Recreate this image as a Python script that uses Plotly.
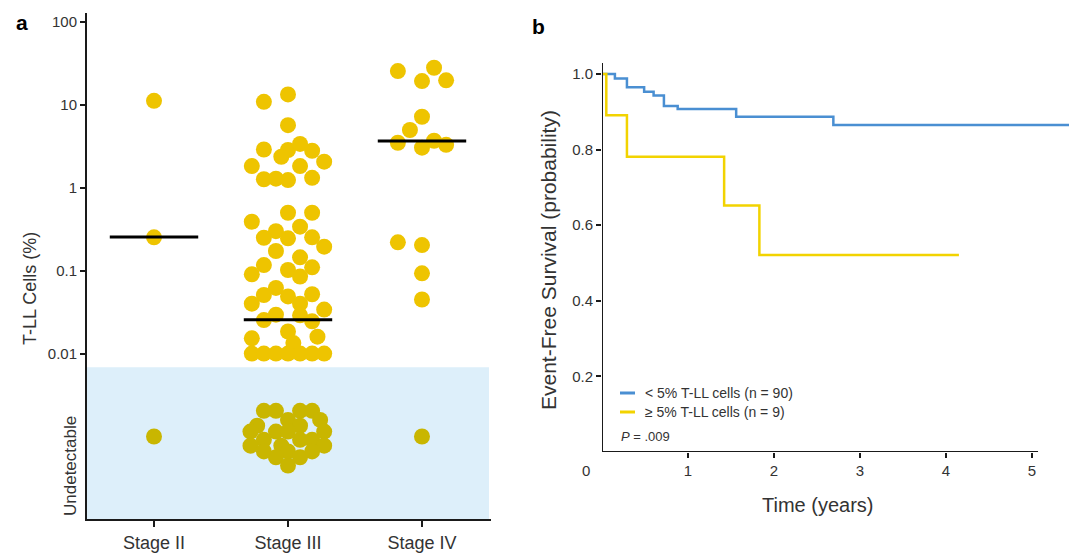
import plotly.graph_objects as go

# ---------------- data ----------------
stages = ["Stage II", "Stage III", "Stage IV"]

stage2_vals = [11.2, 0.253]
stage2_dx = [0, 0]
stage2_undet_dx = [0]
stage2_undet_dy = [0]

stage3_vals = [10.9, 13.4, 5.7,
               2.9, 2.86, 2.37, 3.39, 2.8, 2.07, 1.83, 1.83, 1.27, 1.29, 1.24, 1.32,
               0.50, 0.50, 0.39, 0.30, 0.34, 0.25, 0.246, 0.253, 0.195, 0.173, 0.145,
               0.117, 0.102, 0.11, 0.0905, 0.085,
               0.062, 0.051, 0.049, 0.052, 0.040, 0.040, 0.034, 0.0254, 0.0295, 0.029,
               0.0245, 0.0185, 0.0153, 0.0134, 0.016,
               0.01, 0.01, 0.01, 0.01, 0.01, 0.01, 0.01]
stage3_dx = [-0.18, 0, 0,
             -0.18, 0, -0.05, 0.09, 0.18, 0.27, -0.27, 0.09, -0.18, -0.09, 0, 0.18,
             0, 0.18, -0.27, -0.09, 0.09, -0.18, 0, 0.18, 0.27, -0.09, 0.09,
             -0.18, 0, 0.18, -0.27, 0.09,
             -0.09, -0.18, 0, 0.18, -0.27, 0.09, 0.27, -0.18, -0.09, 0.09,
             0.18, 0, -0.27, 0.04, 0.22,
             -0.27, -0.18, -0.09, 0, 0.09, 0.18, 0.27]
stage3_undet_dx = [-0.18, -0.09, 0.09, 0.18, 0, 0.24, -0.23, 0.09, -0.28, -0.09, 0, 0.27,
                   -0.18, 0.09, 0.18, -0.28, -0.05, 0.27, -0.18, 0, 0.18, -0.09, 0.09, 0]
stage3_undet_dy = [0.31, 0.31, 0.31, 0.31, 0.2, 0.2, 0.13, 0.13, 0.06, 0.06, 0.06, 0.06,
                   -0.04, -0.04, -0.04, -0.11, -0.11, -0.11, -0.18, -0.18, -0.18, -0.25, -0.25, -0.35]

stage4_vals = [25.6, 28.1, 19.4, 19.8, 7.2, 4.98, 3.5, 3.05, 3.7, 3.3, 0.22, 0.204, 0.093, 0.045]
stage4_dx = [-0.18, 0.09, 0, 0.18, 0, -0.09, -0.18, 0, 0.09, 0.18, -0.18, 0, 0, 0]
stage4_undet_dx = [0]
stage4_undet_dy = [0]

medians = [0.256, 0.0257, 3.66]

blue_t = [0, 0.15, 0.29, 0.49, 0.60, 0.72, 0.88, 1.56, 2.69, 5.5]
blue_s = [1.0, 0.988, 0.965, 0.953, 0.943, 0.915, 0.907, 0.887, 0.865, 0.865]
yel_t = [0, 0.05, 0.29, 1.42, 1.83, 4.15]
yel_s = [1.0, 0.891, 0.781, 0.652, 0.521, 0.521]

# ---------------- style ----------------
YEL = "#EEC400"
YEL_UND = "#C9B600"
BAND = "#DDEFFA"
BLUE = "#4A8FD2"
KMYEL = "#F2D300"
AX = "#1a1a1a"
TXT = "#333333"
FONT = "Liberation Sans, Arial, sans-serif"
UNDET = 1e-3   # display level for undetectable samples
MS = 16

fig = go.Figure()

# blue undetectable band
fig.add_trace(go.Scatter(x=[-0.5, 2.5, 2.5, -0.5, -0.5], y=[1e-4, 1e-4, 0.00684, 0.00684, 1e-4],
                         fill="toself", fillcolor=BAND, line=dict(width=0), mode="lines",
                         hoverinfo="skip", showlegend=False, xaxis="x", yaxis="y"))

groups = [(stage2_vals, stage2_dx, stage2_undet_dx, stage2_undet_dy),
          (stage3_vals, stage3_dx, stage3_undet_dx, stage3_undet_dy),
          (stage4_vals, stage4_dx, stage4_undet_dx, stage4_undet_dy)]
for i, (vals, dx, udx, udy) in enumerate(groups):
    fig.add_trace(go.Scatter(x=[i + d for d in dx], y=vals, mode="markers",
                             marker=dict(size=MS, color=YEL, line=dict(width=0)),
                             showlegend=False, xaxis="x", yaxis="y"))
    fig.add_trace(go.Scatter(x=[i + d for d in udx], y=[UNDET * 10 ** d for d in udy], mode="markers",
                             marker=dict(size=MS, color=YEL_UND, line=dict(width=0)),
                             showlegend=False, xaxis="x", yaxis="y"))

for i, m in enumerate(medians):
    fig.add_trace(go.Scatter(x=[i - 0.33, i + 0.33], y=[m, m], mode="lines",
                             line=dict(color="black", width=3), showlegend=False,
                             xaxis="x", yaxis="y"))

# KM curves
fig.add_trace(go.Scatter(x=blue_t, y=blue_s, mode="lines", line=dict(color=BLUE, width=2.5, shape="hv"),
                         showlegend=False, xaxis="x2", yaxis="y2"))
fig.add_trace(go.Scatter(x=yel_t, y=yel_s, mode="lines", line=dict(color=KMYEL, width=2.5, shape="hv"),
                         showlegend=False, xaxis="x2", yaxis="y2"))

fig.update_layout(
    width=1069, height=554, margin=dict(l=0, r=0, t=0, b=0),
    paper_bgcolor="white", plot_bgcolor="white",
    font=dict(family=FONT, color=TXT),
    xaxis=dict(domain=[87 / 1069, 491 / 1069], range=[-0.5, 2.515], tickvals=[0, 1, 2], ticktext=stages,
               showgrid=False, zeroline=False, showline=True, linecolor=AX, linewidth=2,
               ticks="outside", ticklen=6, tickwidth=1.5, tickcolor=AX,
               tickfont=dict(size=18, color=TXT)),
    yaxis=dict(domain=[1 - 519 / 554, 1 - 13 / 554], type="log", range=[-3.995, 2.109],
               tickvals=[100, 10, 1, 0.1, 0.01], ticktext=["100", "10", "1", "0.1", "0.01"],
               showgrid=False, zeroline=False, showline=True, linecolor=AX, linewidth=2,
               ticks="outside", ticklen=5, tickwidth=1.5, tickcolor=AX,
               tickfont=dict(size=15, color=TXT)),
    xaxis2=dict(domain=[602 / 1069, 1.0], range=[0, 5.43], tickvals=[1, 2, 3, 4, 5],
                showgrid=False, zeroline=False, showline=False,
                ticks="outside", ticklen=5, tickwidth=1.5, tickcolor=AX,
                tickfont=dict(size=15, color=TXT), anchor="y2"),
    yaxis2=dict(domain=[1 - 452 / 554, 1 - 63 / 554], range=[0, 1.029],
                tickvals=[0.2, 0.4, 0.6, 0.8, 1.0], tickformat=".1f",
                showgrid=False, zeroline=False, showline=False,
                ticks="outside", ticklen=5, tickwidth=1.5, tickcolor=AX,
                tickfont=dict(size=15, color=TXT), anchor="x2"),
)

# panel b axis lines
fig.add_shape(type="line", xref="x2", yref="y2", x0=0, x1=0, y0=0, y1=1.029, line=dict(color=AX, width=2))
fig.add_shape(type="line", xref="x2", yref="y2", x0=0, x1=5.07, y0=0, y1=0, line=dict(color=AX, width=2))

# legend for panel b
fig.add_shape(type="line", xref="paper", yref="paper", x0=620 / 1069, x1=635 / 1069,
              y0=1 - 393 / 554, y1=1 - 393 / 554, line=dict(color=BLUE, width=3))
fig.add_shape(type="line", xref="paper", yref="paper", x0=620 / 1069, x1=635 / 1069,
              y0=1 - 412 / 554, y1=1 - 412 / 554, line=dict(color=KMYEL, width=3))

ann = [
    dict(text="<b>a</b>", x=22 / 1069, y=1 - 22 / 554, size=21, color="black"),
    dict(text="<b>b</b>", x=538 / 1069, y=1 - 26 / 554, size=21, color="black"),
    dict(text="T-LL Cells (%)", x=30 / 1069, y=1 - 289 / 554, size=18, angle=-90),
    dict(text="Undetectable", x=70 / 1069, y=1 - 466 / 554, size=17, angle=-90),
    dict(text="Event-Free Survival (probability)", x=548 / 1069, y=1 - 260 / 554, size=21, angle=-90),
    dict(text="Time (years)", x=817 / 1069, y=1 - 505 / 554, size=20),
    dict(text="0", x=586 / 1069, y=1 - 470 / 554, size=15),
]
for a in ann:
    fig.add_annotation(text=a["text"], x=a["x"], y=a["y"], xref="paper", yref="paper",
                       showarrow=False, textangle=a.get("angle", 0),
                       font=dict(size=a["size"], color=a.get("color", TXT), family=FONT),
                       xanchor="center", yanchor="middle")

for txt, yy, sz in [("&lt; 5% T-LL cells (n = 90)", 393, 14), ("≥ 5% T-LL cells (n = 9)", 412, 14),
                    ("<i>P</i> = .009", 436, 13)]:
    fig.add_annotation(text=txt, x=(643 if sz == 14 else 619) / 1069, y=1 - yy / 554,
                       xref="paper", yref="paper", showarrow=False,
                       font=dict(size=sz, color=TXT, family=FONT), xanchor="left", yanchor="middle")

fig.write_html("out.html")
